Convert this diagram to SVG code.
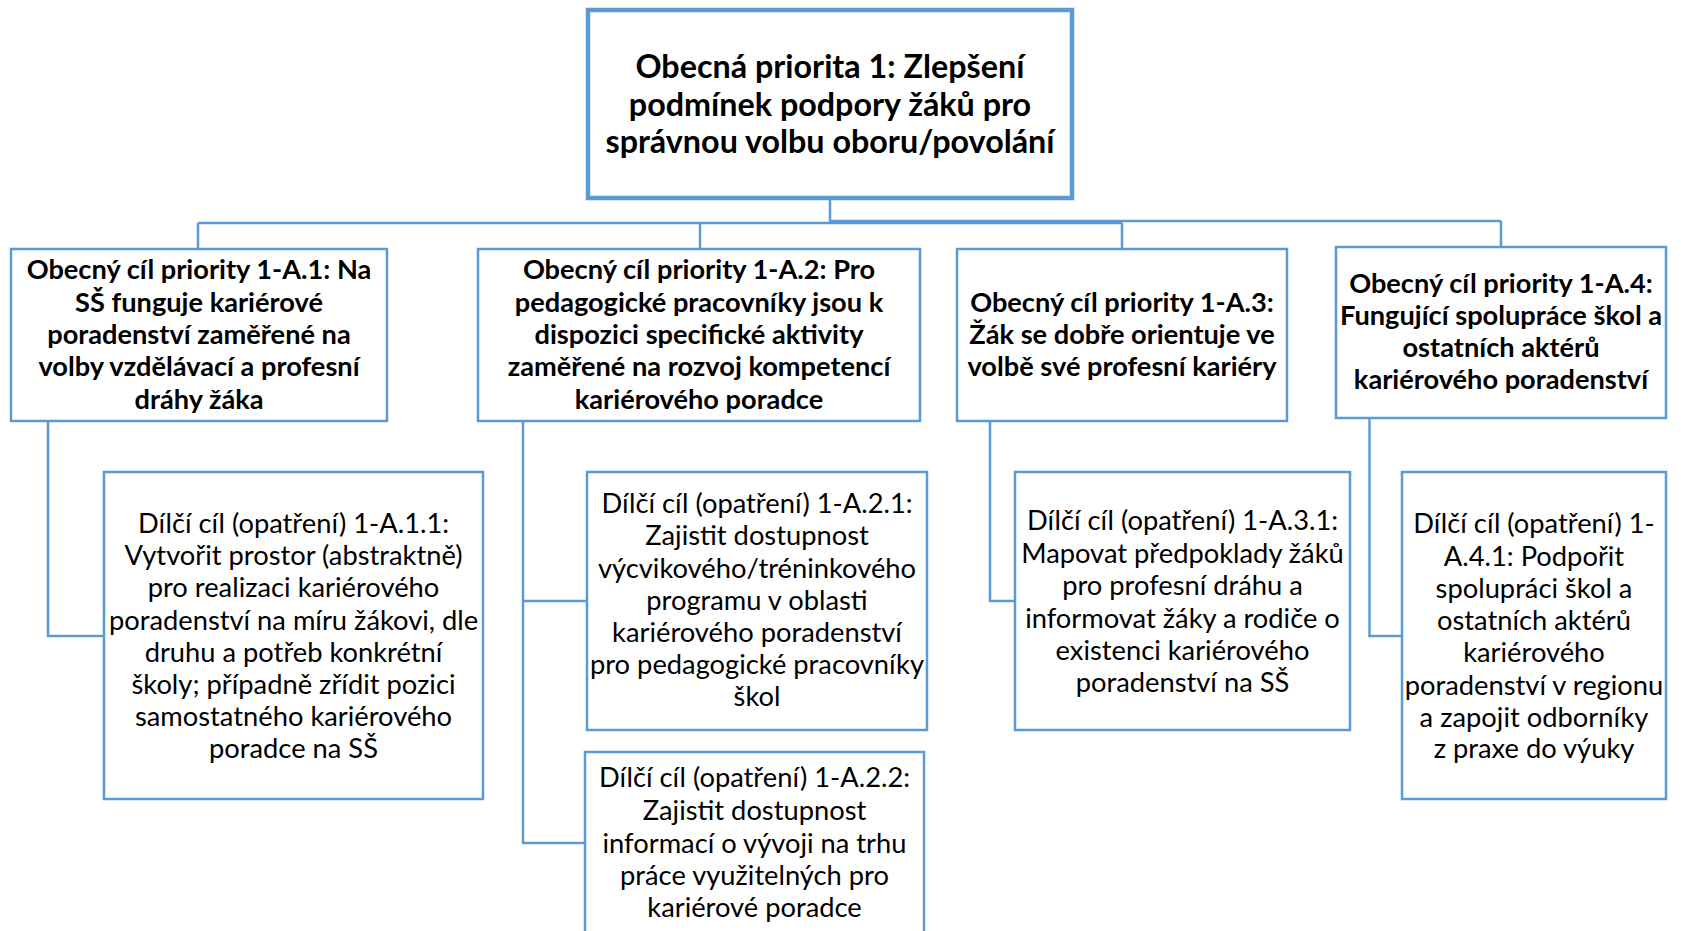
<svg xmlns="http://www.w3.org/2000/svg" width="1681" height="931" viewBox="0 0 1681 931">
<style>
.box{fill:#fff;stroke:#5B9BD5;stroke-width:2.5}
.top{fill:#fff;stroke:#5B9BD5;stroke-width:4.5}
.conn{fill:none;stroke:#5B9BD5;stroke-width:2.5}
text{font-family:Lato,"Liberation Sans",sans-serif;fill:#000;text-anchor:middle}
.t0{font-size:32.3px;font-weight:bold}
.t1{font-size:27.2px;font-weight:bold}
.t2{font-size:27.3px}
</style>
<rect width="1681" height="931" fill="#fff"/>
<g id="connectors">
<path class="conn" d="M830 198V223M198 223H1122M830 221H1501M198 223V249M700 223V249M1122 223V249M1501 221V247"/>
<path class="conn" d="M48 421V636H104M523 421V843H585M523 601H587M990 421V601H1015M1369.5 418V636H1402"/>
</g>
<g id="top">
<rect class="top" x="588" y="10" width="484" height="188"/>
<text class="t0"><tspan x="830" y="78">Obecná priorita 1: Zlepšení</tspan><tspan x="830" y="115.5">podmínek podpory žáků pro</tspan><tspan x="830" y="153">správnou volbu oboru/povolání</tspan></text>
</g>
<g id="a1">
<rect class="box" x="11" y="249" width="376" height="172"/>
<text class="t1"><tspan x="199" y="279">Obecný cíl priority 1-A.1: Na</tspan><tspan x="199" y="311.5">SŠ funguje kariérové</tspan><tspan x="199" y="344">poradenství zaměřené na</tspan><tspan x="199" y="376">volby vzdělávací a profesní</tspan><tspan x="199" y="408.5">dráhy žáka</tspan></text>
</g>
<g id="a2">
<rect class="box" x="478" y="249" width="442" height="172"/>
<text class="t1"><tspan x="699" y="279">Obecný cíl priority 1-A.2: Pro</tspan><tspan x="699" y="311.5">pedagogické pracovníky jsou k</tspan><tspan x="699" y="344">dispozici specifické aktivity</tspan><tspan x="699" y="376">zaměřené na rozvoj kompetencí</tspan><tspan x="699" y="408.5">kariérového poradce</tspan></text>
</g>
<g id="a3">
<rect class="box" x="957" y="249" width="330" height="172"/>
<text class="t1"><tspan x="1122" y="311.5">Obecný cíl priority 1-A.3:</tspan><tspan x="1122" y="344">Žák se dobře orientuje ve</tspan><tspan x="1122" y="376">volbě své profesní kariéry</tspan></text>
</g>
<g id="a4">
<rect class="box" x="1336" y="247" width="330" height="171"/>
<text class="t1"><tspan x="1501" y="293">Obecný cíl priority 1-A.4:</tspan><tspan x="1501" y="325">Fungující spolupráce škol a</tspan><tspan x="1501" y="357">ostatních aktérů</tspan><tspan x="1501" y="389">kariérového poradenství</tspan></text>
</g>
<g id="a11">
<rect class="box" x="104" y="472" width="379" height="327"/>
<text class="t2"><tspan x="293.5" y="533">Dílčí cíl (opatření) 1-A.1.1:</tspan><tspan x="293.5" y="565">Vytvořit prostor (abstraktně)</tspan><tspan x="293.5" y="597">pro realizaci kariérového</tspan><tspan x="293.5" y="629.5">poradenství na míru žákovi, dle</tspan><tspan x="293.5" y="662">druhu a potřeb konkrétní</tspan><tspan x="293.5" y="694">školy; případně zřídit pozici</tspan><tspan x="293.5" y="726">samostatného kariérového</tspan><tspan x="293.5" y="758">poradce na SŠ</tspan></text>
</g>
<g id="a21">
<rect class="box" x="587" y="472" width="340" height="258"/>
<text class="t2"><tspan x="757" y="513">Dílčí cíl (opatření) 1-A.2.1:</tspan><tspan x="757" y="545">Zajistit dostupnost</tspan><tspan x="757" y="577.5">výcvikového/tréninkového</tspan><tspan x="757" y="610">programu v oblasti</tspan><tspan x="757" y="642">kariérového poradenství</tspan><tspan x="757" y="674">pro pedagogické pracovníky</tspan><tspan x="757" y="706">škol</tspan></text>
</g>
<g id="a22">
<rect class="box" x="585" y="752" width="339" height="200"/>
<text class="t2"><tspan x="754.5" y="787">Dílčí cíl (opatření) 1-A.2.2:</tspan><tspan x="754.5" y="820">Zajistit dostupnost</tspan><tspan x="754.5" y="852.5">informací o vývoji na trhu</tspan><tspan x="754.5" y="885">práce využitelných pro</tspan><tspan x="754.5" y="917">kariérové poradce</tspan></text>
</g>
<g id="a31">
<rect class="box" x="1015" y="472" width="335" height="258"/>
<text class="t2"><tspan x="1182.5" y="530">Dílčí cíl (opatření) 1-A.3.1:</tspan><tspan x="1182.5" y="562.5">Mapovat předpoklady žáků</tspan><tspan x="1182.5" y="595">pro profesní dráhu a</tspan><tspan x="1182.5" y="627.5">informovat žáky a rodiče o</tspan><tspan x="1182.5" y="660">existenci kariérového</tspan><tspan x="1182.5" y="692">poradenství na SŠ</tspan></text>
</g>
<g id="a41">
<rect class="box" x="1402" y="472" width="264" height="327"/>
<text class="t2"><tspan x="1534" y="533">Dílčí cíl (opatření) 1-</tspan><tspan x="1534" y="566">A.4.1: Podpořit</tspan><tspan x="1534" y="598">spolupráci škol a</tspan><tspan x="1534" y="629.5">ostatních aktérů</tspan><tspan x="1534" y="662">kariérového</tspan><tspan x="1534" y="694.5">poradenství v regionu</tspan><tspan x="1534" y="727">a zapojit odborníky</tspan><tspan x="1534" y="758">z praxe do výuky</tspan></text>
</g>
</svg>
